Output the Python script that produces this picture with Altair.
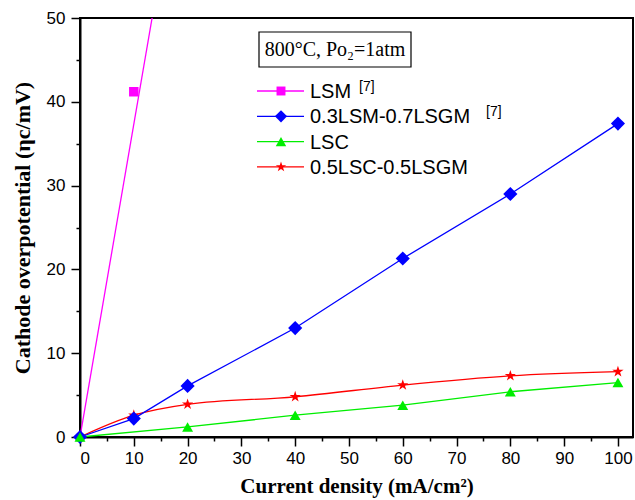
import altair as alt
import pandas as pd

# ---- data ----
lsm_x = [10]
lsm_y = [41.2]
lsm_fit_x = [0, 13.4]
lsm_fit_y = [0, 50]

blue_x = [0, 10, 20, 40, 60, 80, 100]
blue_y = [0, 2.2, 6.1, 13.0, 21.3, 29.0, 37.4]

green_x = [0, 20, 40, 60, 80, 100]
green_y = [0, 1.2, 2.6, 3.8, 5.4, 6.5]

red_x = [0, 10, 20, 40, 60, 80, 100]
red_y = [0, 2.6, 3.9, 4.8, 6.2, 7.3, 7.8]

legend_labels = ["LSM", "0.3LSM-0.7LSGM", "LSC", "0.5LSC-0.5LSGM"]
legend_refs = ["[7]", "[7]", "", ""]

STAR = ("M0,-1L0.2245,-0.309L0.951,-0.309L0.363,0.118L0.588,0.809L0,0.382"
        "L-0.588,0.809L-0.363,0.118L-0.951,-0.309L-0.2245,-0.309Z")

W, H = 553, 419
SANS = "Liberation Sans"
SERIF = "Liberation Serif"

xscale = alt.Scale(domain=[0, 102.8], nice=False)
yscale = alt.Scale(domain=[0, 50], nice=False)

tick_size = {"condition": {"test": "datum.value % 10 == 0", "value": 9}, "value": 4}

xaxis = alt.Axis(values=list(range(0, 101, 5)),
                 labelExpr="datum.value % 10 == 0 ? datum.label : ''",
                 title="Current density (mA/cm²)", grid=False,
                 tickSize=tick_size, tickWidth=1.5, tickColor="black",
                 domainColor="black", domainWidth=2,
                 labelFont=SANS, labelFontSize=17, labelColor="black", labelPadding=4,
                 titleFont=SERIF, titleFontSize=21, titleFontWeight="bold",
                 titleColor="black", titlePadding=9)
yaxis = alt.Axis(values=list(range(0, 51, 5)),
                 labelExpr="datum.value % 10 == 0 ? datum.label : ''",
                 title="Cathode overpotential (ηc/mV)", grid=False,
                 tickSize=tick_size, tickWidth=1.5, tickColor="black",
                 domainColor="black", domainWidth=2,
                 labelFont=SANS, labelFontSize=17, labelColor="black", labelPadding=6,
                 titleFont=SERIF, titleFontSize=22, titleFontWeight="bold",
                 titleColor="black", titlePadding=12)


def enc():
    return dict(x=alt.X("x:Q", scale=xscale, axis=xaxis),
                y=alt.Y("y:Q", scale=yscale, axis=yaxis))


def series(xs, ys, color, shape, size, interp="linear"):
    df = pd.DataFrame({"x": xs, "y": ys})
    line = alt.Chart(df).mark_line(color=color, strokeWidth=1.3,
                                   interpolate=interp).encode(**enc())
    pts = alt.Chart(df).mark_point(shape=shape, filled=True, color=color,
                                   size=size, opacity=1).encode(**enc())
    return line, pts


red_line, red_pts = series(red_x, red_y, "#FF0000", STAR, 140, "monotone")
blue_line, blue_pts = series(blue_x, blue_y, "#0000FF", "diamond", 200)
green_line, green_pts = series(green_x, green_y, "#00EE00", "triangle-up", 120)

lsm_line = alt.Chart(pd.DataFrame({"x": lsm_fit_x, "y": lsm_fit_y})).mark_line(
    color="#FF00FF", strokeWidth=1.3, clip=True).encode(**enc())
lsm_pts = alt.Chart(pd.DataFrame({"x": lsm_x, "y": lsm_y})).mark_point(
    shape="square", filled=True, color="#FF00FF", size=90, opacity=1).encode(**enc())

# ---- annotation: condition box ----
one = alt.Data(values=[{}])
box = alt.Chart(one).mark_rect(fill="white", stroke="black", strokeWidth=1.2).encode(
    x=alt.value(179), x2=alt.value(331), y=alt.value(14), y2=alt.value(49))
box_text = alt.Chart(one).mark_text(font=SERIF, fontSize=20, color="black",
                                    align="center", baseline="middle").encode(
    x=alt.value(255), y=alt.value(32), text=alt.value("800°C, Po₂=1atm"))

# ---- manual legend ----
leg_colors = ["#FF00FF", "#0000FF", "#00EE00", "#FF0000"]
leg_shapes = ["square", "diamond", "triangle-up", STAR]
leg_sizes = [80, 150, 110, 120]
ref_x = [279, 406]
legend_layers = []
for i, lab in enumerate(legend_labels):
    yy = 73 + 25.3 * i
    legend_layers.append(alt.Chart(one).mark_rule(color=leg_colors[i], strokeWidth=1.3).encode(
        x=alt.value(177), x2=alt.value(224), y=alt.value(yy)))
    legend_layers.append(alt.Chart(one).mark_point(shape=leg_shapes[i], filled=True,
                                                   color=leg_colors[i], size=leg_sizes[i],
                                                   opacity=1).encode(
        x=alt.value(201), y=alt.value(yy)))
    legend_layers.append(alt.Chart(one).mark_text(font=SANS, fontSize=20, color="black",
                                                  align="left", baseline="middle").encode(
        x=alt.value(230), y=alt.value(yy + 1), text=alt.value(lab)))
    if legend_refs[i]:
        legend_layers.append(alt.Chart(one).mark_text(font=SANS, fontSize=14, color="black",
                                                      align="left", baseline="middle").encode(
            x=alt.value(ref_x[i]), y=alt.value(yy - 4), text=alt.value(legend_refs[i])))

chart = alt.layer(
    red_line, blue_line, green_line, lsm_line,
    red_pts, blue_pts, green_pts, lsm_pts,
    box, box_text, *legend_layers
).properties(
    width=W, height=H,
    autosize=alt.AutoSizeParams(type="none"),
    padding={"left": 80, "top": 18, "right": 2, "bottom": 63},
    background="white",
).configure_view(stroke="black", strokeWidth=2)

chart.save("out.html", embed_options={"renderer": "svg", "actions": False})
